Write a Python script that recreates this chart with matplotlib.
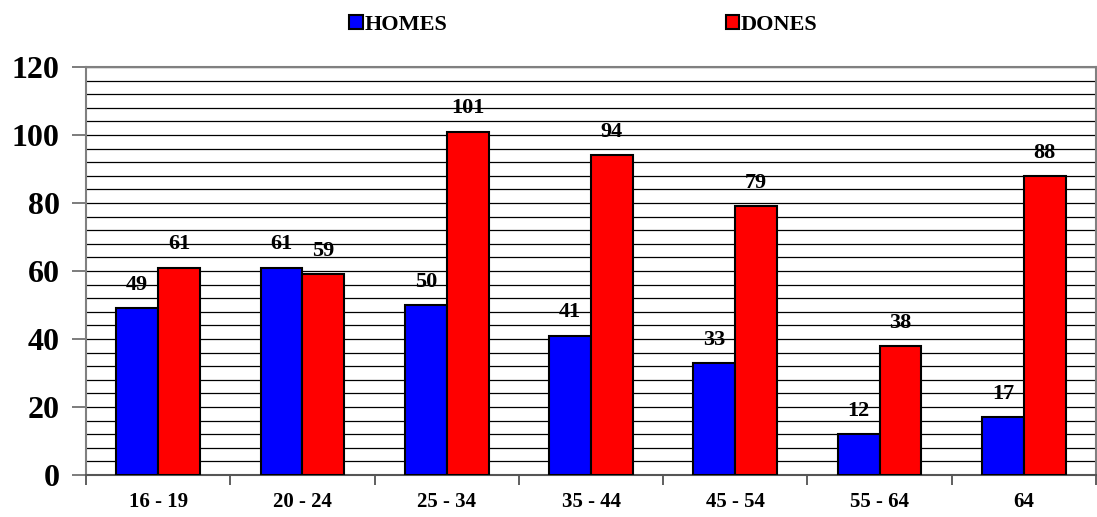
import matplotlib
matplotlib.use('Agg')
import matplotlib.pyplot as plt
import numpy as np

# age groups
categories = ['16 - 19', '20 - 24', '25 - 34', '35 - 44', '45 - 54', '55 - 64', '64']
homes = [49, 61, 50, 41, 33, 12, 17]
dones = [61, 59, 101, 94, 79, 38, 88]

plt.rcParams['font.family'] = ['Liberation Serif', 'DejaVu Serif']
plt.rcParams['font.weight'] = 'bold'

fig = plt.figure(figsize=(10.97, 5.17), dpi=100)
ax = fig.add_axes([86/1097, 42/517, 1010/1097, 408/517])

x = np.arange(len(categories))
w = 0.29
b1 = ax.bar(x - w/2, homes, w, color='#0000ff', edgecolor='black', linewidth=1.5, zorder=3, label='HOMES')
b2 = ax.bar(x + w/2, dones, w, color='#ff0000', edgecolor='black', linewidth=1.5, zorder=3, label='DONES')

for rects, vals in ((b1, homes), (b2, dones)):
    for r, v in zip(rects, vals):
        ax.annotate(str(v), (r.get_x() + r.get_width()/2, v), xytext=(0, 9.5),
                    textcoords='offset points', ha='center', va='bottom',
                    fontsize=16, fontweight='bold')

ax.set_xlim(-0.5, len(categories) - 0.5)
ax.set_ylim(0, 120)
ax.set_yticks(np.arange(0, 121, 20))
ax.set_yticks(np.arange(0, 121, 4), minor=True)
ax.yaxis.grid(True, which='both', color='black', linewidth=0.9, zorder=0)
ax.tick_params(axis='y', which='major', labelsize=23, length=10, width=1.2, color='#666666', pad=9)
ax.tick_params(axis='y', which='minor', length=0)

ax.set_xticks(x)
ax.set_xticklabels(categories)
ax.set_xticks(np.arange(-0.5, len(categories)), minor=True)
ax.tick_params(axis='x', which='major', length=0, labelsize=15, pad=12)
ax.tick_params(axis='x', which='minor', length=7, width=1.2, color='#444444')

for s in ax.spines.values():
    s.set_color('#808080')
    s.set_linewidth(1.5)
ax.spines['bottom'].set_color('#555555')

leg = fig.legend(handles=[b1, b2], loc='upper center', bbox_to_anchor=(0.532, 1.01), ncol=2,
                 frameon=False, fontsize=16, columnspacing=12.5, handlelength=0.6,
                 handleheight=0.6, handletextpad=0.1)

fig.savefig('out.png', dpi=100)
